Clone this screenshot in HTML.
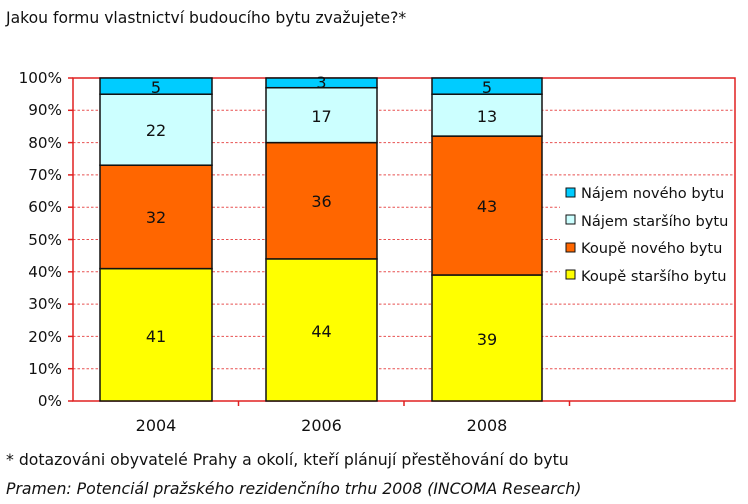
<!DOCTYPE html>
<html><head><meta charset="utf-8"><style>
html,body{margin:0;padding:0;background:#fff;width:748px;height:504px;overflow:hidden}
svg{display:block;font-family:"DejaVu Sans","Liberation Sans",sans-serif}
</style></head><body>
<svg width="748" height="504" viewBox="0 0 748 504" xmlns="http://www.w3.org/2000/svg">
<text x="6" y="23" font-size="15.6" fill="#111">Jakou formu vlastnictví budoucího bytu zvažujete?*</text>
<g stroke="#e85050" stroke-width="1" stroke-dasharray="2.5,2">
<line x1="73" x2="735" y1="110.3" y2="110.3"/><line x1="73" x2="735" y1="142.6" y2="142.6"/>
<line x1="73" x2="735" y1="174.9" y2="174.9"/><line x1="73" x2="735" y1="207.2" y2="207.2"/>
<line x1="73" x2="735" y1="239.5" y2="239.5"/><line x1="73" x2="735" y1="271.8" y2="271.8"/>
<line x1="73" x2="735" y1="304.1" y2="304.1"/><line x1="73" x2="735" y1="336.4" y2="336.4"/>
<line x1="73" x2="735" y1="368.7" y2="368.7"/>
</g>
<rect x="560" y="180" width="174" height="108" fill="#fff"/>
<g stroke="#e02020" stroke-width="1.5" fill="none">
<rect x="73" y="78" width="662" height="323"/>
<line x1="68" x2="73" y1="78" y2="78"/><line x1="68" x2="73" y1="110.3" y2="110.3"/><line x1="68" x2="73" y1="142.6" y2="142.6"/><line x1="68" x2="73" y1="174.9" y2="174.9"/><line x1="68" x2="73" y1="207.2" y2="207.2"/><line x1="68" x2="73" y1="239.5" y2="239.5"/><line x1="68" x2="73" y1="271.8" y2="271.8"/><line x1="68" x2="73" y1="304.1" y2="304.1"/><line x1="68" x2="73" y1="336.4" y2="336.4"/><line x1="68" x2="73" y1="368.7" y2="368.7"/><line x1="68" x2="73" y1="401" y2="401"/>
<line x1="238.5" x2="238.5" y1="401" y2="406"/><line x1="404" x2="404" y1="401" y2="406"/><line x1="569.5" x2="569.5" y1="401" y2="406"/>
</g>
<g font-size="15.2" fill="#111" text-anchor="end">
<text x="62" y="83">100%</text><text x="62" y="115">90%</text><text x="62" y="148">80%</text><text x="62" y="180">70%</text><text x="62" y="212">60%</text><text x="62" y="245">50%</text><text x="62" y="277">40%</text><text x="62" y="309">30%</text><text x="62" y="342">20%</text><text x="62" y="374">10%</text><text x="62" y="406">0%</text>
</g>
<g stroke="#111" stroke-width="1.5">
<rect x="100" y="268.6" width="112" height="132.4" fill="#ffff00"/>
<rect x="100" y="165.2" width="112" height="103.4" fill="#ff6600"/>
<rect x="100" y="94.2" width="112" height="71" fill="#ccffff"/>
<rect x="100" y="78" width="112" height="16.2" fill="#00ccff"/>
<rect x="266" y="258.9" width="111" height="142.1" fill="#ffff00"/>
<rect x="266" y="142.6" width="111" height="116.3" fill="#ff6600"/>
<rect x="266" y="87.7" width="111" height="54.9" fill="#ccffff"/>
<rect x="266" y="78" width="111" height="9.7" fill="#00ccff"/>
<rect x="432" y="275" width="110" height="126" fill="#ffff00"/>
<rect x="432" y="136.1" width="110" height="138.9" fill="#ff6600"/>
<rect x="432" y="94.2" width="110" height="41.9" fill="#ccffff"/>
<rect x="432" y="78" width="110" height="16.2" fill="#00ccff"/>
</g>
<g font-size="16" fill="#111" text-anchor="middle">
<text x="156" y="342">41</text><text x="156" y="223">32</text><text x="156" y="136">22</text><text x="156" y="93">5</text>
<text x="321.5" y="337">44</text><text x="321.5" y="207">36</text><text x="321.5" y="122">17</text><text x="321.5" y="88">3</text>
<text x="487" y="345">39</text><text x="487" y="212">43</text><text x="487" y="122">13</text><text x="487" y="93">5</text>
<text x="156" y="431">2004</text><text x="321.5" y="431">2006</text><text x="487" y="431">2008</text>
</g>
<g stroke="#111" stroke-width="1">
<rect x="566" y="188" width="9" height="9" fill="#00ccff"/>
<rect x="566" y="215" width="9" height="9" fill="#ccffff"/>
<rect x="566" y="243" width="9" height="9" fill="#ff6600"/>
<rect x="566" y="270" width="9" height="9" fill="#ffff00"/>
</g>
<g font-size="14.6" fill="#111">
<text x="581" y="198">Nájem nového bytu</text>
<text x="581" y="226">Nájem staršího bytu</text>
<text x="581" y="253">Koupě nového bytu</text>
<text x="581" y="281">Koupě staršího bytu</text>
</g>
<text x="6" y="465" font-size="15.7" fill="#111">* dotazováni obyvatelé Prahy a okolí, kteří plánují přestěhování do bytu</text>
<text x="6" y="494" font-size="15.7" fill="#111" font-style="italic">Pramen: Potenciál pražského rezidenčního trhu 2008 (INCOMA Research)</text>
</svg>
</body></html>
